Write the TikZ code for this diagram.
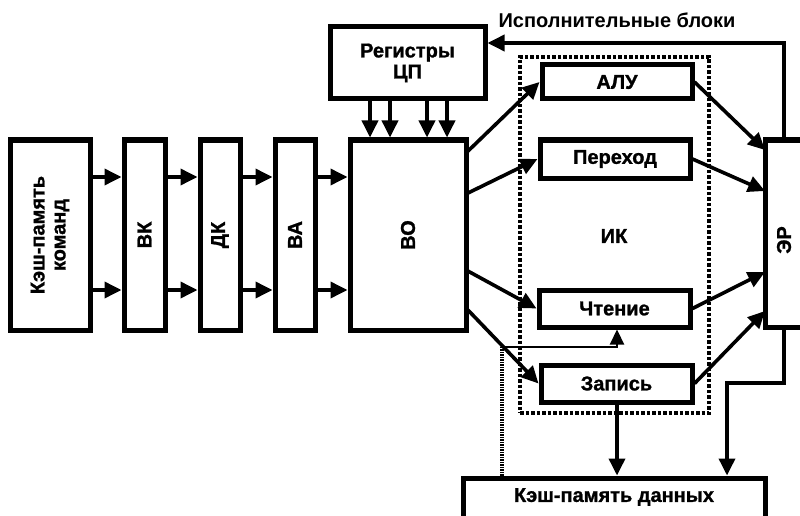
\documentclass[tikz,border=0pt]{standalone}
\usepackage{fontspec}
\setmainfont{Liberation Sans}
\newfontfamily\heavyfont[FakeBold=1.2]{Liberation Sans Bold}
\usetikzlibrary{arrows.meta}
\begin{document}
\begin{tikzpicture}[x=1pt,y=-1pt,
  box/.style={draw, line width=5pt, inner sep=0pt, font=\heavyfont\fontsize{20}{21}\selectfont},
  lbl/.style={font=\heavyfont\fontsize{20}{21}\selectfont, inner sep=0pt},
  arr/.style={line width=3.6pt, -{Triangle[length=17pt,width=16pt]}},
  thinarr/.style={line width=2.2pt, -{Triangle[length=15pt,width=14pt]}},
  dotbox/.style={draw, line width=3.2pt, dash pattern=on 3.5pt off 2pt, inner sep=0pt}]
\useasboundingbox (0,0) rectangle (800,516);
% helper coordinates
\coordinate (yA) at (0,177);
\coordinate (yB) at (0,290);
\coordinate (y43) at (0,43);
\coordinate (y347) at (0,347);
\coordinate (y383) at (0,383);
\coordinate (xa) at (370,0);
\coordinate (xb) at (390,0);
\coordinate (xc) at (427,0);
\coordinate (xd) at (447,0);
\coordinate (x502) at (502,0);
\coordinate (x617) at (617,0);
\coordinate (x727) at (727,0);
\coordinate (x784) at (784,0);
% dotted frame of execution units
\node[dotbox, minimum width=189pt, minimum height=356pt] (ik) at (614.5,235) {};
\node[lbl] (iklbl) at (614,236) {ИК};
% boxes
\node[box, minimum width=80pt, minimum height=190pt] (kk) at (50,235) {};
\node[lbl, rotate=90, align=center] (kklbl) at (50,235) {Кэш-память\\команд};
\node[box, minimum width=41pt, minimum height=190pt] (vk) at (144.5,235) {};
\node[lbl, rotate=90] (vklbl) at (144.5,235) {ВК};
\node[box, minimum width=40pt, minimum height=190pt] (dk) at (220,235) {};
\node[lbl, rotate=90] (dklbl) at (220,235) {ДК};
\node[box, minimum width=40pt, minimum height=190pt] (va) at (295,235) {};
\node[lbl, rotate=90] (valbl) at (295,235) {ВА};
\node[box, minimum width=116pt, minimum height=190pt] (vo) at (408,235) {};
\node[lbl, rotate=90] (volbl) at (408,235) {ВО};
\node[box, minimum width=155pt, minimum height=72pt, align=center] (reg) at (407.5,63) {Регистры\\ЦП};
\node[box, minimum width=150pt, minimum height=34pt] (alu) at (617,82) {АЛУ};
\node[box, minimum width=150pt, minimum height=38pt] (per) at (615,159) {Переход};
\node[box, minimum width=151pt, minimum height=37pt] (cht) at (614.5,308.5) {Чтение};
\node[box, minimum width=151pt, minimum height=37pt] (zap) at (616.5,383.5) {Запись};
\node[box, minimum width=70pt, minimum height=187pt] (er) at (800,233.5) {};
\node[lbl, rotate=90] (erlbl) at (784,240) {ЭР};
\node[box, minimum width=302pt, minimum height=56pt] (kd) at (614,506) {};
\node[lbl] (kdlbl) at (614,497) {Кэш-память данных};
\node[font=\bfseries\fontsize{20}{21}\selectfont, inner sep=0pt] (title) at (617,20) {Исполнительные блоки};
% pipeline arrows
\foreach \a/\b in {kk/vk, vk/dk, dk/va, va/vo}{
  \draw[arr] (\a.east |- yA) -- (\b.west |- yA);
  \draw[arr] (\a.east |- yB) -- (\b.west |- yB);
}
% registers to VO
\foreach \x in {xa,xb,xc,xd}{
  \draw[arr] (reg.south -| \x) -- (vo.north -| \x);
}
% VO to execution units
\draw[arr] (466,153) -- (alu.west);
\draw[arr] (466,194) -- (per.west);
\draw[arr] (466,270) -- (cht.west);
\draw[arr] (466,308) -- (zap.west);
% execution units to ER
\draw[arr] (alu.east) -- (765,150);
\draw[arr] (per.east) -- (765,191);
\draw[arr] (cht.east) -- (765,272);
\draw[arr] (zap.east) -- (765,311);
% feedback ER -> registers
\draw[arr] (er.north -| x784) -- (x784 |- y43) -- (reg.east |- y43);
% ER -> data cache
\draw[arr] (er.south -| x784) -- (x784 |- y383) -- (x727 |- y383) -- (kd.north -| x727);
% write -> data cache
\draw[arr] (zap.south -| x617) -- (kd.north -| x617);
% data cache -> read
\draw[line width=3.5pt, dash pattern=on 1.5pt off 1pt] (kd.north -| x502) -- (x502 |- y347);
\draw[thinarr] (x502 |- y347) -- (x617 |- y347) -- (cht.south -| x617);
\end{tikzpicture}
\end{document}
